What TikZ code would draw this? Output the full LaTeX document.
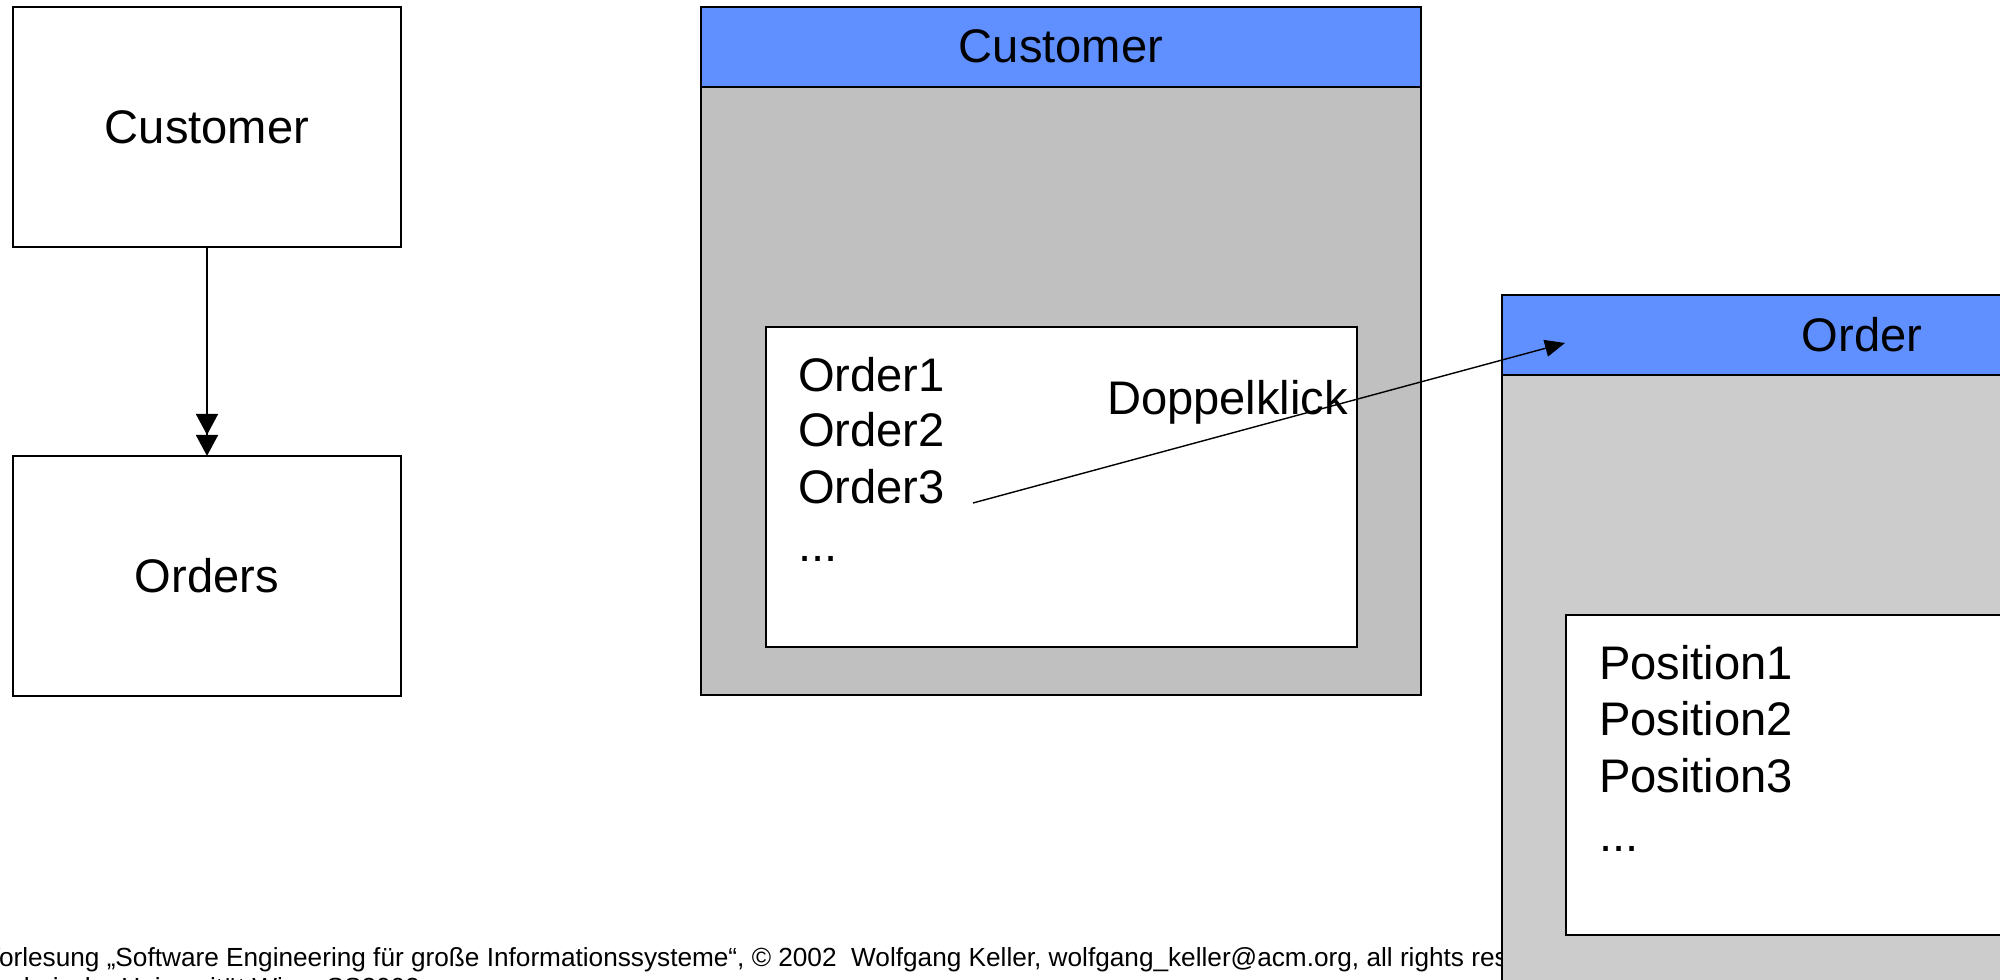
\documentclass[tikz,border=0pt]{standalone}
\usepackage{fontspec}
\setmainfont{Liberation Sans}
\usetikzlibrary{arrows.meta}
\definecolor{hdrblue}{RGB}{96,144,255}
\definecolor{custgray}{RGB}{192,192,192}
\definecolor{ordgray}{RGB}{204,204,204}

\begin{document}
\begin{tikzpicture}[x=0.01cm,y=-0.01cm,
  every node/.style={inner sep=0pt,outer sep=0pt},
  bigtext/.style={font=\fontsize{13.4}{16}\selectfont},
  smalltext/.style={font=\fontsize{7.45}{8.8}\selectfont,anchor=base west},
  umlbox/.style={draw=black,line width=0.55pt,bigtext,minimum width=3.88cm,minimum height=2.4cm},
  winline/.style={draw=black,line width=0.55pt},
  dblarrow/.style={line width=0.55pt,-{Triangle[length=0.21cm,width=0.22cm] Triangle[length=0.21cm,width=0.22cm]}},
  thinarrow/.style={line width=0.4pt,-{Triangle[length=0.2cm,width=0.17cm]}}]
\useasboundingbox (0,0) rectangle (2000,980);
\clip (0,0) rectangle (2000,980);
\node [umlbox] (cust) at (207,127) {Customer};
\node [umlbox] (orders) at (207,576) {Orders};
\draw [dblarrow] (cust) -- (orders);
\draw [winline,fill=custgray] (701,7) rectangle (1421,695);
\draw [winline,fill=hdrblue] (701,7) rectangle (1421,87);
\node [bigtext,anchor=base] (custhdr) at (1061,63) {Customer};
\draw [winline,fill=white] (766,327) rectangle (1357,647);
\node [bigtext,anchor=base west] (ord1) at (798,392) {Order1};
\node [bigtext,anchor=base west] (ord2) at (798,447) {Order2};
\node [bigtext,anchor=base west] (ord3) at (798,504) {Order3};
\node [bigtext,anchor=base west] (orddots) at (798,562) {...};
\node [bigtext,anchor=base west] (dblclick) at (1107,415) {Doppelklick};
\node [smalltext] (footer1) at (-17,966) {Vorlesung „Software Engineering für große Informationssysteme“, © 2002\ \ Wolfgang Keller, wolfgang\_keller@acm.org, all rights reserved};
\node [smalltext] (footer2) at (-17,997) {Technische Universität Wien, SS2002};
\draw [winline,fill=ordgray] (1502,295) rectangle (2222,990);
\draw [winline,fill=hdrblue] (1502,295) rectangle (2222,375);
\node [bigtext,anchor=base] (ordhdr) at (1862,352) {Order};
\draw [winline,fill=white] (1566,615) rectangle (2158,935);
\node [bigtext,anchor=base west] (pos1) at (1599,680) {Position1};
\node [bigtext,anchor=base west] (pos2) at (1599,736) {Position2};
\node [bigtext,anchor=base west] (pos3) at (1599,793) {Position3};
\node [bigtext,anchor=base west] (posdots) at (1599,852) {...};
\coordinate (clickstart) at (973,503);
\coordinate (clickend) at (1565,343);
\draw [thinarrow] (clickstart) -- (clickend);
\end{tikzpicture}
\end{document}
